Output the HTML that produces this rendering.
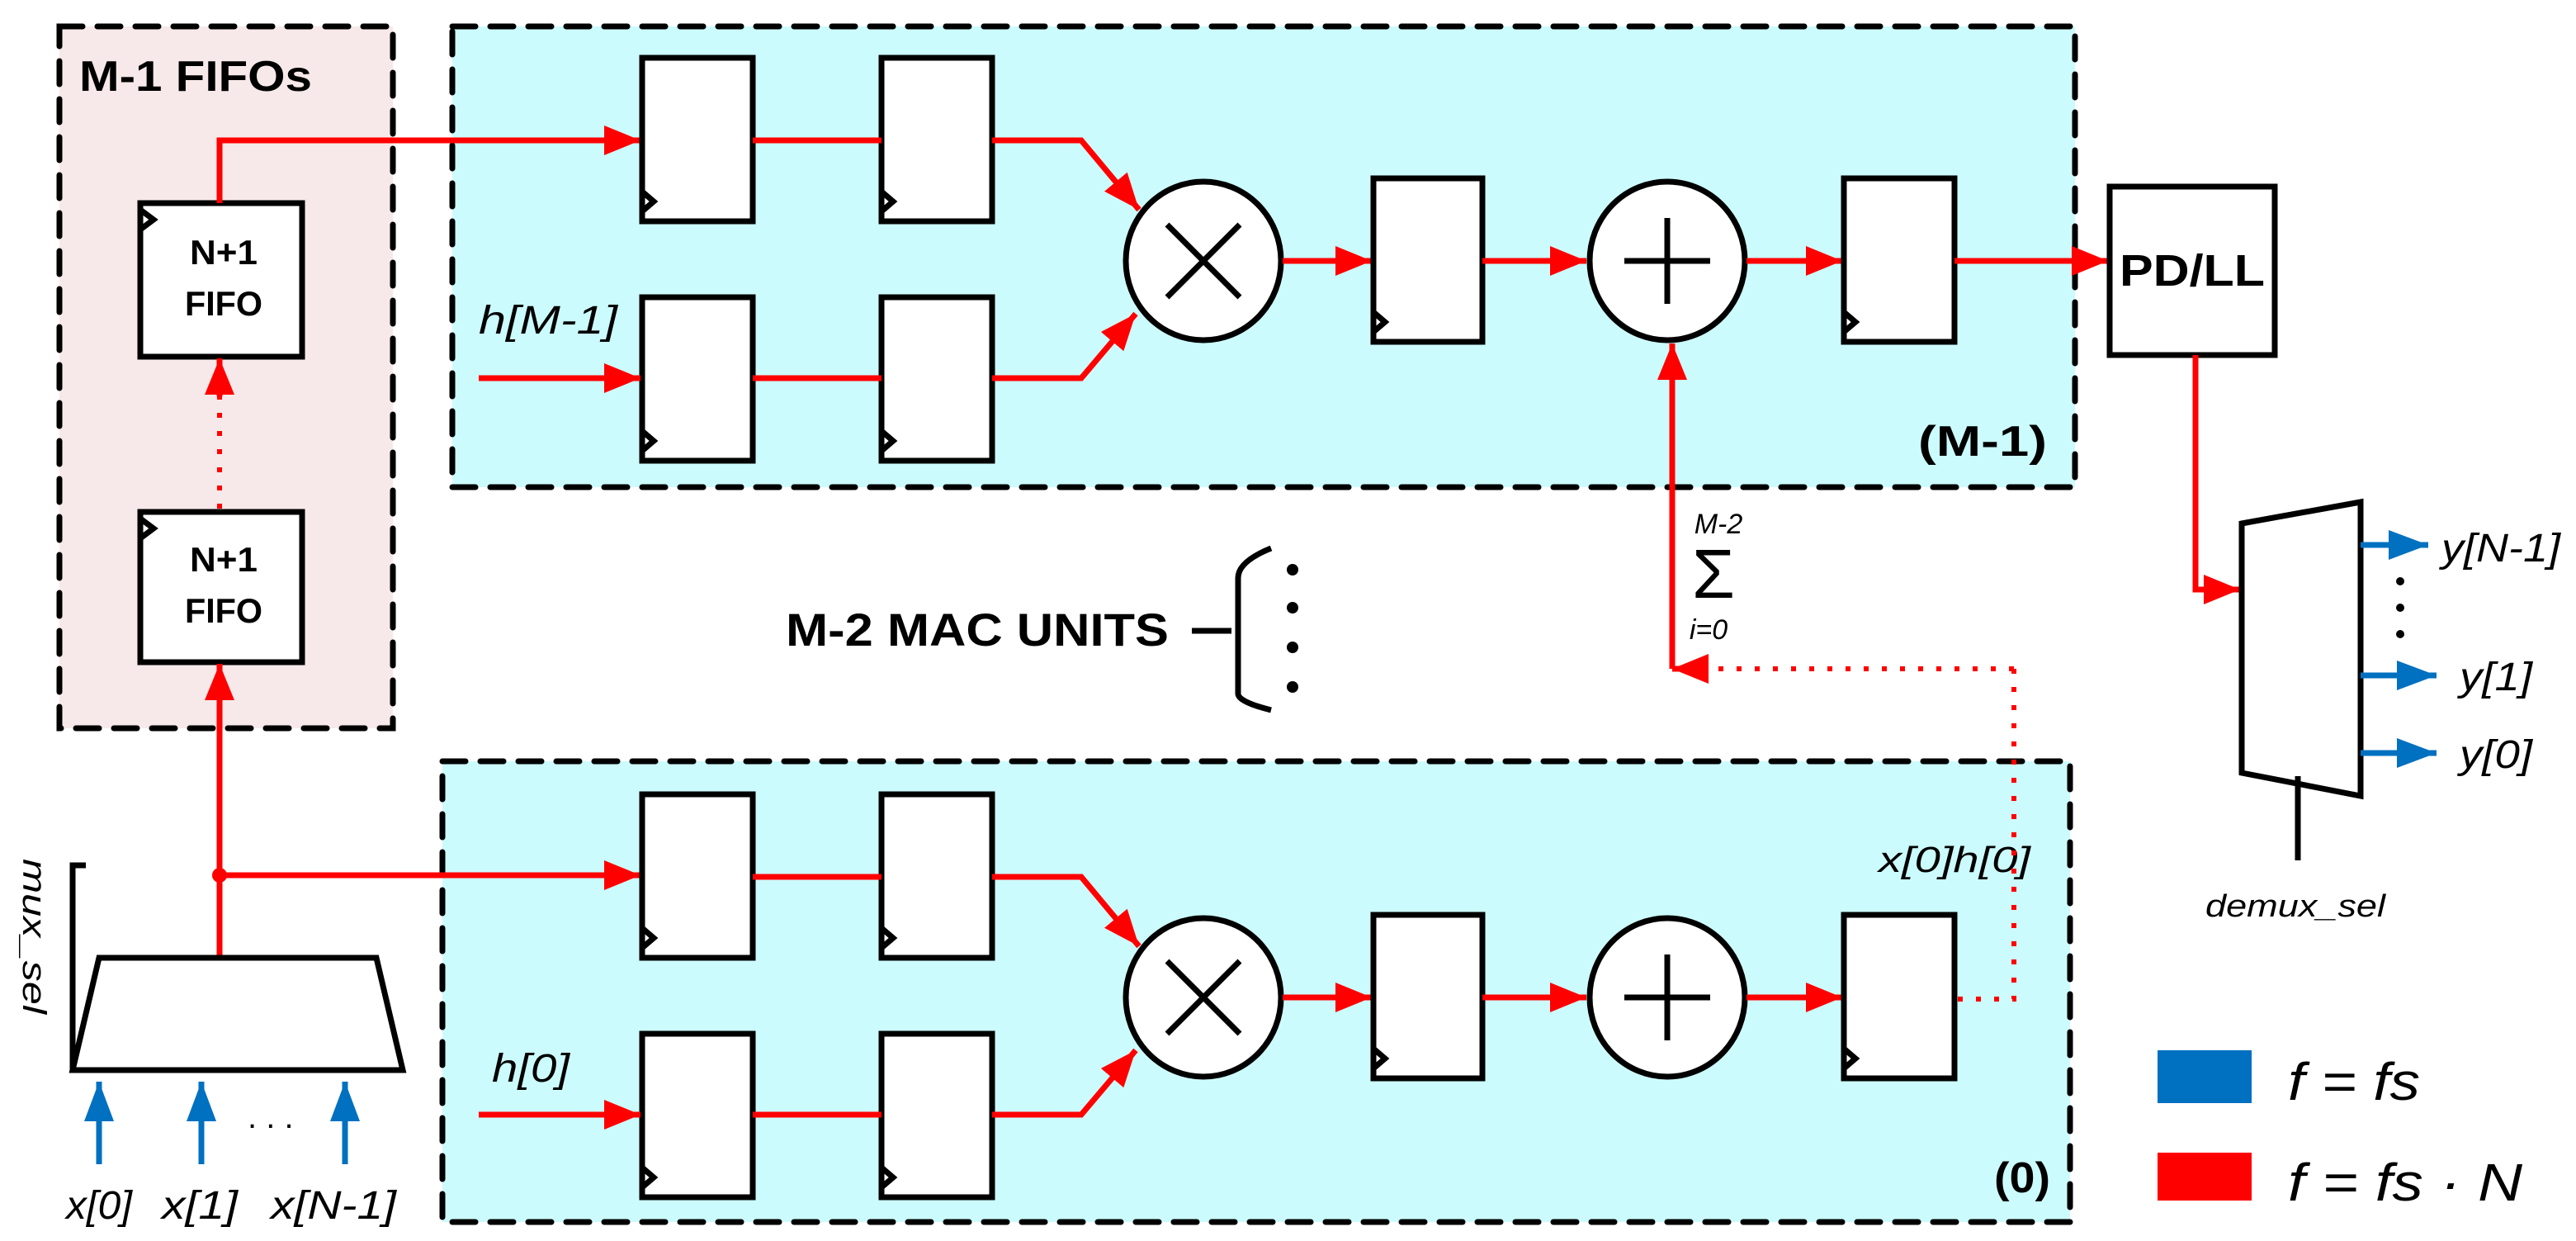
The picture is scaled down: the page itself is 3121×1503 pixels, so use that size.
<!DOCTYPE html>
<html><head><meta charset="utf-8"><style>html,body{margin:0;padding:0;background:#fff}svg{display:block}</style></head>
<body>
<svg width="3121" height="1503" viewBox="0 0 1560.5 751.5" xmlns="http://www.w3.org/2000/svg" font-family="Liberation Sans, sans-serif">
<defs>
<marker id="ar" viewBox="0 0 10 10" refX="10" refY="5" markerWidth="22" markerHeight="18" markerUnits="userSpaceOnUse" orient="auto" preserveAspectRatio="none"><path d="M0,0L10,5L0,10z" fill="#f00"/></marker>
<marker id="ab" viewBox="0 0 10 10" refX="10" refY="5" markerWidth="24" markerHeight="18" markerUnits="userSpaceOnUse" orient="auto" preserveAspectRatio="none"><path d="M0,0L10,5L0,10z" fill="#0070c0"/></marker>
</defs>
<style>
.db{fill:none;stroke:#000;stroke-width:3.5;stroke-dasharray:14 9;stroke-linecap:round}
.bx{fill:#fff;stroke:#000;stroke-width:3.5}
.w{fill:none;stroke:#f00;stroke-width:3.5}
.wd{fill:none;stroke:#f00;stroke-width:3;stroke-dasharray:3 8}
.bw{fill:none;stroke:#0070c0;stroke-width:3.5}
.ln{fill:none;stroke:#000;stroke-width:3.5}
text{font-size:22px}
</style>
<rect x="36" y="16" width="202" height="425" fill="#f7e9e9"/>
<rect x="36" y="16" width="202" height="425" class="db"/>
<rect x="274" y="16" width="983" height="279" fill="#ccfbfd"/>
<rect x="274" y="16" width="983" height="279" class="db"/>
<rect x="268" y="461" width="986" height="279" fill="#ccfbfd"/>
<rect x="268" y="461" width="986" height="279" class="db"/>
<text x="48" y="55" style="font-size:26px;font-weight:bold" textLength="141" lengthAdjust="spacingAndGlyphs">M-1 FIFOs</text>
<rect x="85" y="123" width="98" height="93" class="bx"/><path d="M85,127l8,6l-8,6" class="ln" stroke-width="2"/>
<text x="115" y="160" style="font-size:21px;font-weight:bold" textLength="41" lengthAdjust="spacingAndGlyphs">N+1</text><text x="112" y="191" style="font-size:21px;font-weight:bold" textLength="47" lengthAdjust="spacingAndGlyphs">FIFO</text>
<rect x="85" y="310" width="98" height="91" class="bx"/><path d="M85,314l8,6l-8,6" class="ln" stroke-width="2"/>
<text x="115" y="346" style="font-size:21px;font-weight:bold" textLength="41" lengthAdjust="spacingAndGlyphs">N+1</text><text x="112" y="377" style="font-size:21px;font-weight:bold" textLength="47" lengthAdjust="spacingAndGlyphs">FIFO</text>
<path d="M133,308V240" class="wd"/><path d="M133,240v-23" class="w" marker-end="url(#ar)"/>
<path d="M133,580V402" class="w" marker-end="url(#ar)"/>
<circle cx="133" cy="530" r="4.5" fill="#f00"/>
<path d="M133,530H388" class="w" marker-end="url(#ar)"/>
<path d="M133,123V85H388" class="w" marker-end="url(#ar)"/>
<path d="M60,580L228,580L244,648L44,648Z" class="bx"/>
<path d="M44,648V524h8" class="ln" stroke-width="2.5"/>
<text transform="translate(14,520) rotate(90)" style="font-size:20px;font-style:italic" textLength="94" lengthAdjust="spacingAndGlyphs">mux_sel</text>
<path d="M60,705V655" class="bw" marker-end="url(#ab)"/><path d="M122,705V655" class="bw" marker-end="url(#ab)"/><path d="M209,705V655" class="bw" marker-end="url(#ab)"/>
<text x="150" y="683" style="font-size:20px">. . .</text>
<text x="40" y="738" style="font-size:24px;font-style:italic" textLength="40" lengthAdjust="spacingAndGlyphs">x[0]</text>
<text x="98" y="738" style="font-size:24px;font-style:italic" textLength="46" lengthAdjust="spacingAndGlyphs">x[1]</text>
<text x="164" y="738" style="font-size:24px;font-style:italic" textLength="76" lengthAdjust="spacingAndGlyphs">x[N-1]</text>
<g id="mac">
<rect x="389" y="35" width="67" height="99" class="bx"/><path d="M389,116l7,6l-7,6" class="ln" stroke-width="2"/>
<rect x="534" y="35" width="67" height="99" class="bx"/><path d="M534,116l7,6l-7,6" class="ln" stroke-width="2"/>
<rect x="389" y="180" width="67" height="99" class="bx"/><path d="M389,261l7,6l-7,6" class="ln" stroke-width="2"/>
<rect x="534" y="180" width="67" height="99" class="bx"/><path d="M534,261l7,6l-7,6" class="ln" stroke-width="2"/>
<path d="M456,85H534M601,85H655L690,127" class="w" marker-end="url(#ar)"/>
<path d="M456,229H534M601,229H655L688,190" class="w" marker-end="url(#ar)"/>
<path d="M290,229H388" class="w" marker-end="url(#ar)"/>
<ellipse cx="729" cy="158" rx="47" ry="48" class="bx"/>
<path d="M707,136L751,180M751,136L707,180" class="ln"/>
<path d="M777,158H831" class="w" marker-end="url(#ar)"/>
<rect x="832" y="108" width="66" height="99" class="bx"/><path d="M832,189l7,6l-7,6" class="ln" stroke-width="2"/>
<path d="M898,158H961" class="w" marker-end="url(#ar)"/>
<ellipse cx="1010" cy="158" rx="47" ry="48" class="bx"/>
<path d="M1010,132V184M984,158H1036" class="ln"/>
<path d="M1058,158H1116" class="w" marker-end="url(#ar)"/>
<rect x="1117" y="108" width="67" height="99" class="bx"/><path d="M1117,189l7,6l-7,6" class="ln" stroke-width="2"/>
</g>
<use href="#mac" transform="translate(0,446)"/>
<text x="290" y="202" style="font-size:24px;font-style:italic" textLength="84" lengthAdjust="spacingAndGlyphs">h[M-1]</text>
<text x="298" y="655" style="font-size:24px;font-style:italic" textLength="47" lengthAdjust="spacingAndGlyphs">h[0]</text>
<text x="1162" y="276" style="font-size:26px;font-weight:bold" textLength="78" lengthAdjust="spacingAndGlyphs">(M-1)</text>
<text x="1208" y="722" style="font-size:26px;font-weight:bold" textLength="34" lengthAdjust="spacingAndGlyphs">(0)</text>
<text x="1138" y="528" style="font-size:22px;font-style:italic" textLength="92" lengthAdjust="spacingAndGlyphs">x[0]h[0]</text>
<path d="M1184,158H1277" class="w" marker-end="url(#ar)"/>
<rect x="1278" y="113" width="100" height="102" class="bx"/>
<text x="1284" y="173" style="font-size:27px;font-weight:bold" textLength="88" lengthAdjust="spacingAndGlyphs">PD/LL</text>
<path d="M1013,405V208" class="w" marker-end="url(#ar)"/>
<path d="M1220,405H1035" class="wd"/><path d="M1035,405h-22" class="w" marker-end="url(#ar)"/>
<path d="M1220,405V605H1186" class="wd"/>
<text x="1041" y="323" style="font-size:17px;font-style:italic" text-anchor="middle">M-2</text>
<text x="1038" y="362" style="font-size:42px" text-anchor="middle">Σ</text>
<text x="1035" y="387" style="font-size:17px;font-style:italic" text-anchor="middle">i=0</text>
<text x="476" y="391" style="font-size:28px;font-weight:bold" textLength="232" lengthAdjust="spacingAndGlyphs">M-2 MAC UNITS</text>
<path d="M722,382H746M770,332Q750,340 750,350V420Q750,425 770,430" class="ln"/>
<g fill="#000"><circle cx="783" cy="345" r="3.5"/><circle cx="783" cy="368" r="3.5"/><circle cx="783" cy="392" r="3.5"/><circle cx="783" cy="416" r="3.5"/></g>
<path d="M1330,215V357H1357" class="w" marker-end="url(#ar)"/>
<path d="M1358,317L1430,304V482L1358,468Z" class="bx"/>
<path d="M1392,470V521" class="ln"/>
<text x="1336" y="555" style="font-size:19px;font-style:italic" textLength="109" lengthAdjust="spacingAndGlyphs">demux_sel</text>
<path d="M1430,330H1471" class="bw" marker-end="url(#ab)"/>
<path d="M1430,409H1476" class="bw" marker-end="url(#ab)"/>
<path d="M1430,456H1476" class="bw" marker-end="url(#ab)"/>
<g fill="#000"><circle cx="1454" cy="352" r="2.5"/><circle cx="1454" cy="368" r="2.5"/><circle cx="1454" cy="384" r="2.5"/></g>
<text x="1479" y="340" style="font-size:24px;font-style:italic" textLength="72" lengthAdjust="spacingAndGlyphs">y[N-1]</text>
<text x="1490" y="418" style="font-size:24px;font-style:italic" textLength="44" lengthAdjust="spacingAndGlyphs">y[1]</text>
<text x="1490" y="465" style="font-size:24px;font-style:italic" textLength="44" lengthAdjust="spacingAndGlyphs">y[0]</text>
<rect x="1307" y="636" width="57" height="32" fill="#0070c0"/>
<rect x="1307" y="698" width="57" height="29" fill="#f00"/>
<text x="1386" y="666" style="font-size:32px;font-style:italic" textLength="80" lengthAdjust="spacingAndGlyphs">f = fs</text>
<text x="1386" y="727" style="font-size:32px;font-style:italic" textLength="142" lengthAdjust="spacingAndGlyphs">f = fs · N</text>
</svg>
</body></html>
